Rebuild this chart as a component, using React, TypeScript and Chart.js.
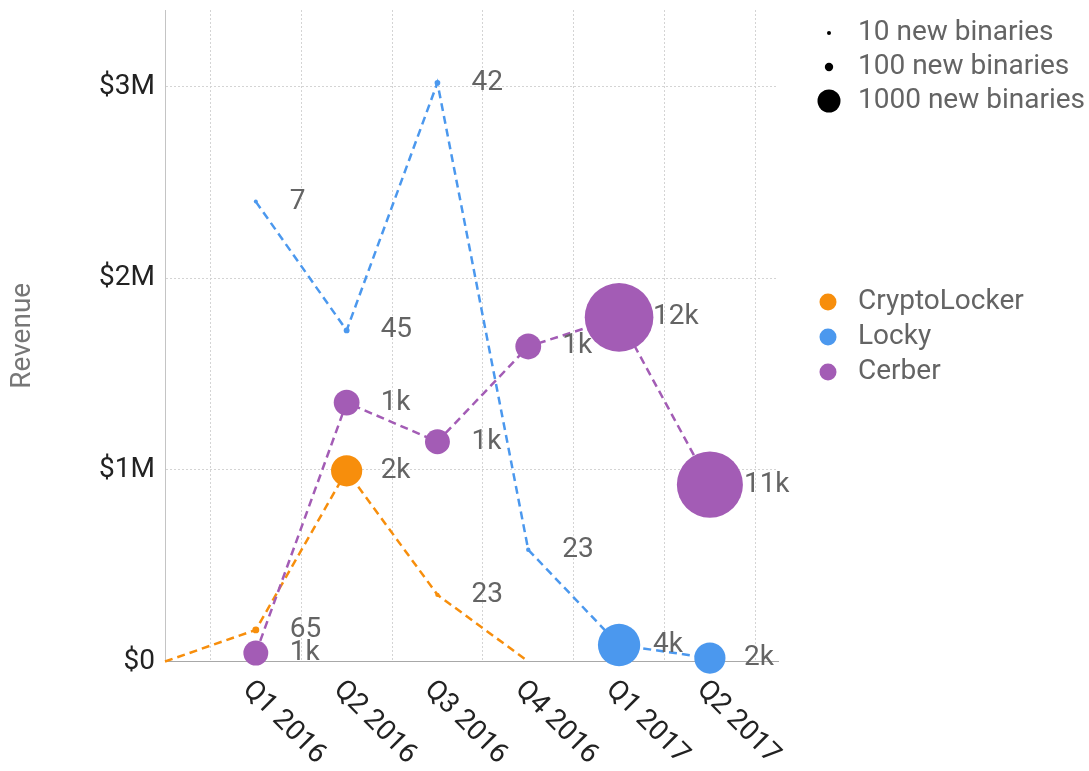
import React, { useEffect, useRef } from "react";
import { Chart, registerables } from "chart.js";

Chart.register(...registerables);

// Quarters on the x axis (index 0 = axis origin, left unlabeled)
const quarters = ["Q4 2015", "Q1 2016", "Q2 2016", "Q3 2016", "Q4 2016", "Q1 2017", "Q2 2017"];

const seriesNames = ["CryptoLocker", "Locky", "Cerber"];
const seriesColors = ["#F78E0C", "#4B98EE", "#A35CB5"];

// Revenue in USD per quarter (null = no data)
const cryptoRevenue = [0, 165000, 995000, 348000, 0, null, null];
const lockyRevenue = [null, 2400000, 1728000, 3020000, 583000, 86000, 18000];
const cerberRevenue = [null, 44000, 1351000, 1147000, 1644000, 1796000, 923000];

// New binaries per quarter (drives bubble size and labels)
const cryptoBinaries = [null, 65, 2000, 23, null, null, null];
const lockyBinaries = [null, 7, 45, 42, 23, 4000, 2000];
const cerberBinaries = [null, 1200, 1300, 1200, 1300, 12000, 11000];

const sizeLegendValues = [10, 100, 1000];
const yTickValues = [0, 1000000, 2000000, 3000000];
const yMax = 3400000;
const yTitle = "Revenue";

const FONT = "Roboto, 'Noto Sans', sans-serif";

const radiusFor = (n: number | null) =>
  n == null || n <= 0 ? 0 : Math.max(2, 11.5 * Math.pow(n / 1000, 0.44));
const labelFor = (n: number) => (n >= 1000 ? Math.round(n / 1000) + "k" : String(n));

export default function App() {
  const ref = useRef<HTMLCanvasElement>(null);

  useEffect(() => {
    document.body.style.margin = "0";
    const canvas = ref.current!;

    const series = [
      { name: seriesNames[0], color: seriesColors[0], revenue: cryptoRevenue, binaries: cryptoBinaries },
      { name: seriesNames[1], color: seriesColors[1], revenue: lockyRevenue, binaries: lockyBinaries },
      { name: seriesNames[2], color: seriesColors[2], revenue: cerberRevenue, binaries: cerberBinaries },
    ];

    const datasets = series.map((s, si) => {
      const idx = s.revenue.map((v, i) => (v == null ? -1 : i)).filter((i) => i >= 0);
      return {
        label: s.name,
        data: idx.map((i) => ({ x: i, y: s.revenue[i] as number })),
        binaries: idx.map((i) => s.binaries[i]),
        borderColor: s.color,
        backgroundColor: s.color,
        pointBackgroundColor: s.color,
        pointBorderWidth: 0,
        pointRadius: idx.map((i) => radiusFor(s.binaries[i])),
        pointHoverRadius: idx.map((i) => radiusFor(s.binaries[i])),
        borderWidth: 2.5,
        borderDash: [8, 5],
        fill: false,
        tension: 0,
        clip: false as any,
        order: 2 - si,
      };
    });

    const overlay = {
      id: "overlay",
      afterDatasetsDraw(chart: any) {
        const ctx = chart.ctx as CanvasRenderingContext2D;
        ctx.save();
        ctx.font = `28px ${FONT}`;
        ctx.fillStyle = "#646464";
        ctx.textAlign = "left";
        ctx.textBaseline = "middle";
        chart.data.datasets.forEach((ds: any, di: number) => {
          const meta = chart.getDatasetMeta(di);
          meta.data.forEach((el: any, j: number) => {
            const n = ds.binaries[j];
            if (n == null) return;
            ctx.fillText(labelFor(n), el.x + 34, el.y);
          });
        });
        ctx.restore();
      },
      afterDraw(chart: any) {
        const ctx = chart.ctx as CanvasRenderingContext2D;
        const xs = chart.scales.x;
        const axisY = chart.chartArea.bottom;
        ctx.save();
        // rotated x tick labels
        ctx.font = `28px ${FONT}`;
        ctx.fillStyle = "#222222";
        ctx.textAlign = "left";
        ctx.textBaseline = "middle";
        quarters.forEach((q, i) => {
          if (i === 0) return;
          const px = xs.getPixelForValue(i);
          ctx.save();
          ctx.translate(px - 9, axisY + 24);
          ctx.rotate(Math.PI / 4);
          ctx.fillText(q, 0, 0);
          ctx.restore();
        });
        // size legend
        ctx.font = `28px ${FONT}`;
        sizeLegendValues.forEach((v, k) => {
          const y = 33 + k * 34;
          ctx.fillStyle = "#000000";
          ctx.beginPath();
          ctx.arc(829, y, radiusFor(v), 0, Math.PI * 2);
          ctx.fill();
          ctx.fillStyle = "#646464";
          ctx.fillText(`${v} new binaries`, 858, y);
        });
        // series legend
        seriesNames.forEach((name, k) => {
          const y = 302 + k * 35;
          ctx.fillStyle = seriesColors[k];
          ctx.beginPath();
          ctx.arc(828, y, 8.5, 0, Math.PI * 2);
          ctx.fill();
          ctx.fillStyle = "#646464";
          ctx.fillText(name, 858, y);
        });
        ctx.restore();
      },
    };

    const chart = new Chart(canvas, {
      type: "line",
      data: { datasets: datasets as any },
      options: {
        animation: false,
        responsive: false,
        events: [],
        layout: { autoPadding: false, padding: { top: 10, right: 311, left: 0, bottom: 0 } },
        plugins: { legend: { display: false }, tooltip: { enabled: false } },
        scales: {
          x: {
            type: "linear",
            min: 0,
            max: quarters.length - 1 + 0.75,
            afterBuildTicks: (s: any) => {
              s.ticks = quarters.map((_, i) => ({ value: i + 0.5 })).filter((t) => t.value < quarters.length);
            },
            afterFit: (s: any) => {
              s.height = 109.5;
              s.paddingLeft = 0;
              s.paddingRight = 0;
              s.paddingTop = 0;
              s.paddingBottom = 0;
            },
            ticks: { display: false },
            grid: { color: "#d4d4d4", lineWidth: 1, drawTicks: false },
            border: { display: true, color: "#a8a8a8", width: 1, dash: [2, 2] },
          },
          y: {
            type: "linear",
            min: 0,
            max: yMax,
            afterBuildTicks: (s: any) => {
              s.ticks = yTickValues.map((v) => ({ value: v }));
            },
            afterFit: (s: any) => {
              s.width = 165;
              s.paddingTop = 0;
              s.paddingBottom = 0;
              s.paddingLeft = 0;
              s.paddingRight = 0;
            },
            ticks: {
              padding: 10,
              color: "#222222",
              font: { family: FONT, size: 28 },
              callback: (v: any) => (v === 0 ? "$0" : "$" + v / 1000000 + "M"),
            },
            grid: {
              color: (c: any) => (c.tick && c.tick.value === 0 ? "rgba(0,0,0,0)" : "#d4d4d4"),
              lineWidth: 1,
              drawTicks: false,
            },
            border: { display: true, color: "#c4c4c4", width: 1, dash: [2, 2] },
            title: {
              display: true,
              text: yTitle,
              color: "#777777",
              font: { family: FONT, size: 28 },
              padding: { top: 6, bottom: 4 },
            },
          },
        },
      },
      plugins: [overlay],
    });

    return () => chart.destroy();
  }, []);

  return (
    <div style={{ width: 1089, height: 771 }}>
      <canvas ref={ref} width={1089} height={771} style={{ display: "block" }} />
    </div>
  );
}
